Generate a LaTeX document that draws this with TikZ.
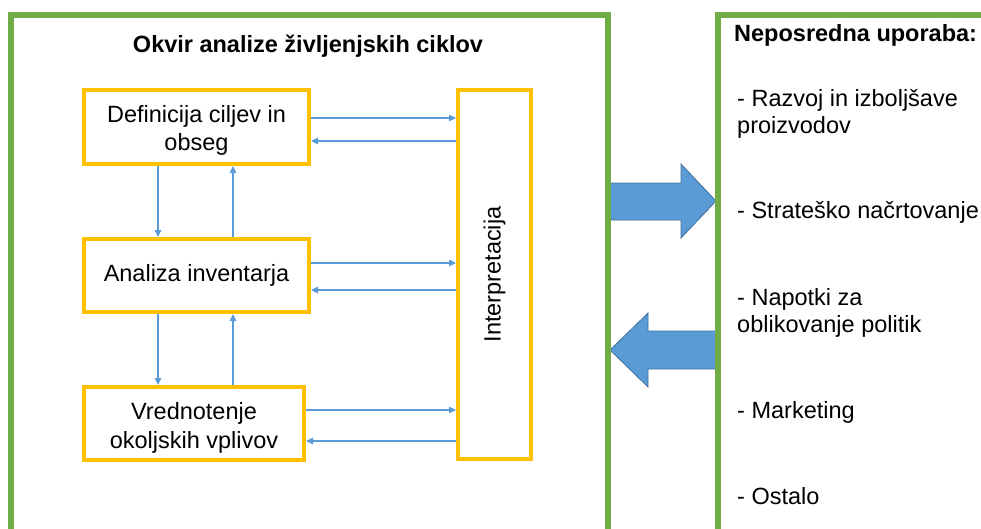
\documentclass[tikz,border=0pt]{standalone}
\usepackage{fontspec}
\setmainfont{Liberation Sans}
\usetikzlibrary{arrows.meta}
\definecolor{framegreen}{HTML}{70AD47}
\definecolor{stageyellow}{HTML}{FFC000}
\definecolor{linkblue}{HTML}{5B9BD5}
\definecolor{arrowedge}{HTML}{41719C}
\begin{document}
\begin{tikzpicture}[x=1pt,y=-1pt,
  every node/.style={font=\fontsize{23.5}{28}\selectfont, text=black},
  frame/.style={draw=framegreen, line width=6pt},
  stagebox/.style={draw=stageyellow, line width=4pt, fill=white, inner sep=0pt, align=center},
  link/.style={draw=linkblue, line width=1.1pt, -{Triangle[length=7pt,width=6.5pt]}},
  bigarrow/.style={fill=linkblue, draw=arrowedge, line width=0.8pt},
  heading/.style={font=\bfseries\fontsize{23.5}{28}\selectfont, inner sep=0pt},
  item/.style={anchor=base west, inner sep=0pt, align=left},
]
\useasboundingbox (0,0) rectangle (981,528);
\clip (0,0) rectangle (981,528);

% block arrows between the two panels
\path[bigarrow] (608,183) -- (681,183) -- (681,164) -- (716,201) -- (681,238)
  -- (681,220) -- (608,220) -- cycle;
\path[bigarrow] (718,331) -- (648,331) -- (648,313) -- (610,350) -- (648,387)
  -- (648,369) -- (718,369) -- cycle;

% panel frames (open at the bottom and on the right)
\draw[frame] (11,540) -- (11,15) -- (608,15) -- (608,540);
\draw[frame] (718,540) -- (718,15) -- (990,15);

% left panel
\node[heading, anchor=base] (title) at (308,52) {Okvir analize življenjskih ciklov};

\node[stagebox, minimum width=225pt, minimum height=74pt,
      text height=46.6pt, text depth=0pt] (d1) at (196.5,127)
  {Definicija ciljev in\\obseg};
\node[stagebox, minimum width=225pt, minimum height=73pt] (d2) at (196.5,275.5)
  {Analiza inventarja};
\node[stagebox, minimum width=220pt, minimum height=73pt,
      text height=49pt, text depth=0pt,
      font=\fontsize{23.5}{28.8}\selectfont] (d3) at (194,423.5)
  {Vrednotenje\\okoljskih vplivov};
\node[stagebox, minimum width=73pt, minimum height=369pt] (it) at (494.5,274.5) {};
\node[rotate=90, inner sep=0pt] (itlabel) at (it.center) {Interpretacija};

% links between the phases
\coordinate (downx) at (158,0);
\coordinate (upx) at (233,0);
\draw[link] (d1.south -| downx) -- (d2.north -| downx);
\draw[link] (d2.north -| upx) -- (d1.south -| upx);
\draw[link] (d2.south -| downx) -- (d3.north -| downx);
\draw[link] (d3.north -| upx) -- (d2.south -| upx);

\draw[link] ([yshift=9pt]d1.east) -- ([yshift=9pt]d1.east -| it.west);
\draw[link] ([yshift=-14pt]d1.east -| it.west) -- ([yshift=-14pt]d1.east);
\draw[link] ([yshift=12.5pt]d2.east) -- ([yshift=12.5pt]d2.east -| it.west);
\draw[link] ([yshift=-14.5pt]d2.east -| it.west) -- ([yshift=-14.5pt]d2.east);
\draw[link] ([yshift=13.5pt]d3.east) -- ([yshift=13.5pt]d3.east -| it.west);
\draw[link] ([yshift=-17.5pt]d3.east -| it.west) -- ([yshift=-17.5pt]d3.east);

% right panel (multi-line items are placed by the baseline of their last line)
\node[heading, anchor=base west] (usehead) at (734,41) {Neposredna uporaba:};
\node[item, font=\fontsize{23.5}{27}\selectfont] (u1) at (737,133) {- Razvoj in izboljšave\\proizvodov};
\node[item] (u2) at (737,218) {- Strateško načrtovanje};
\node[item, font=\fontsize{23.5}{27}\selectfont] (u3) at (737,332) {- Napotki za\\oblikovanje politik};
\node[item] (u4) at (737,418) {- Marketing};
\node[item] (u5) at (737,504) {- Ostalo};
\end{tikzpicture}
\end{document}
